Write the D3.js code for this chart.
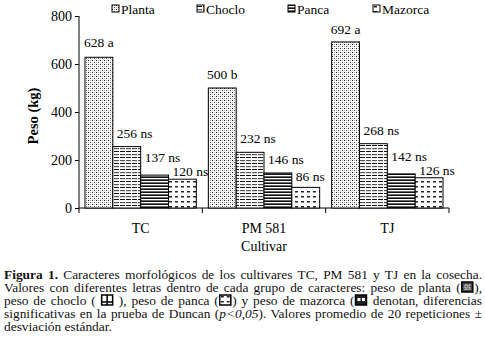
<!DOCTYPE html>
<html>
<head>
<meta charset="utf-8">
<script src="https://cdn.jsdelivr.net/npm/d3@7"></script>
<style>
  body { margin: 0; background: #fff; }
  svg text { font-family: "Liberation Serif", "Times New Roman", Times, serif; }
</style>
</head>
<body>
<div id="chart"></div>
<script>
// data
const cultivars = ["TC", "PM 581", "TJ"];
const series = ["Planta", "Choclo", "Panca", "Mazorca"];
const planta = [628, 500, 692];
const choclo = [256, 232, 268];
const panca = [137, 146, 142];
const mazorca = [120, 86, 126];
const plantaLetters = ["a", "b", "a"];
const otherLetters = ["ns", "ns", "ns"];
const yTicks = [0, 200, 400, 600, 800];

// how far each value label sits above its bar (px), per series then cultivar
const labelLift = [[10, 9.5, 8], [9, 9.5, 9], [13, 8.5, 13], [3, 6, 3]];

const FONT = "'Liberation Serif', 'Times New Roman', Times, serif";
const width = 485, height = 349;
const svg = d3.select("#chart").append("svg")
  .attr("width", width).attr("height", height)
  .attr("font-family", FONT);

// patterns for the bars
const defs = svg.append("defs");
function pattern(id, w, h, draw) {
  const p = defs.append("pattern").attr("id", id)
    .attr("patternUnits", "userSpaceOnUse").attr("width", w).attr("height", h);
  p.append("rect").attr("width", w).attr("height", h).attr("fill", "#fff");
  draw(p);
}
pattern("p-planta", 4, 4, p => {
  p.append("rect").attr("x", 0).attr("y", 0).attr("width", 1).attr("height", 1).attr("fill", "#111");
  p.append("rect").attr("x", 2).attr("y", 2).attr("width", 1).attr("height", 1).attr("fill", "#555");
  p.append("rect").attr("x", 2).attr("y", 0).attr("width", 1).attr("height", 1).attr("fill", "#aaa");
  p.append("rect").attr("x", 0).attr("y", 2).attr("width", 1).attr("height", 1).attr("fill", "#bbb");
});
pattern("p-choclo", 6, 6, p => {
  p.append("rect").attr("x", 0).attr("y", 1).attr("width", 5).attr("height", 1).attr("fill", "#111");
  p.append("rect").attr("x", 0).attr("y", 4).attr("width", 5).attr("height", 1.2).attr("fill", "#555");
});
pattern("p-panca", 4, 3, p => {
  p.append("rect").attr("x", 0).attr("y", 0).attr("width", 4).attr("height", 1).attr("fill", "#111");
  p.append("rect").attr("x", 0).attr("y", 2).attr("width", 4).attr("height", 1).attr("fill", "#666");
});
pattern("p-mazorca", 6, 5, p => {
  p.append("rect").attr("x", 1).attr("y", 1).attr("width", 3).attr("height", 1.5).attr("fill", "#222");
});
const fills = ["url(#p-planta)", "url(#p-choclo)", "url(#p-panca)", "url(#p-mazorca)"];

// scales
const x0 = d3.scaleBand().domain(cultivars).range([79, 449]).paddingInner(0).paddingOuter(0);
const x1 = d3.scaleBand().domain(series).range([6, x0.bandwidth() - 6]);
const y = d3.scaleLinear().domain([0, 800]).range([208, 16]);

const values = [planta, choclo, panca, mazorca];
const letters = [plantaLetters, otherLetters, otherLetters, otherLetters];
const rows = [];
cultivars.forEach((c, i) => series.forEach((s, j) => {
  rows.push({ c, s, i, j, v: values[j][i], lab: values[j][i] + " " + letters[j][i] });
}));

// axes
const yAxis = svg.append("g").attr("transform", "translate(79,0)")
  .call(d3.axisLeft(y).tickValues(yTicks).tickSize(4).tickPadding(3));
yAxis.attr("font-family", FONT).attr("font-size", 14);
yAxis.select(".domain").attr("d", `M0,${y(800)}V${y(0)}`);
yAxis.selectAll("text").attr("fill", "#000");

const xg = svg.append("g");
xg.append("line").attr("x1", 79).attr("x2", 449).attr("y1", y(0)).attr("y2", y(0))
  .attr("stroke", "#000");
const bounds = cultivars.map(c => x0(c)).concat([x0.range()[1]]);
xg.selectAll("line.tk").data(bounds).join("line").attr("class", "tk")
  .attr("x1", d => d).attr("x2", d => d)
  .attr("y1", y(0)).attr("y2", y(0) + 5).attr("stroke", "#000");
xg.selectAll("text").data(cultivars).join("text")
  .attr("x", d => x0(d) + x0.bandwidth() / 2).attr("y", 233)
  .attr("text-anchor", "middle").attr("font-size", 14).text(d => d);

svg.append("text").attr("x", 264).attr("y", 251).attr("text-anchor", "middle")
  .attr("font-size", 14).text("Cultivar");
svg.append("text").attr("transform", "translate(38,116) rotate(-90)")
  .attr("text-anchor", "middle").attr("font-size", 14.5).attr("font-weight", "bold")
  .text("Peso (kg)");

// bars
svg.append("g").selectAll("rect").data(rows).join("rect")
  .attr("x", d => x0(d.c) + x1(d.s)).attr("y", d => y(d.v))
  .attr("width", x1.bandwidth()).attr("height", d => y(0) - y(d.v))
  .attr("fill", d => fills[d.j]).attr("stroke", "#000").attr("stroke-width", 1);

svg.append("g").selectAll("text").data(rows).join("text")
  .attr("x", d => x0(d.c) + x1(d.s) + (d.j === 0 ? x1.bandwidth() / 2 : 4))
  .attr("y", d => y(d.v) - labelLift[d.j][d.i])
  .attr("text-anchor", d => d.j === 0 ? "middle" : "start")
  .attr("font-size", 13.5).text(d => d.lab);

// legend
const legendX = [112, 197, 288, 373];
const lg = svg.append("g").selectAll("g").data(series).join("g")
  .attr("transform", (d, i) => `translate(${legendX[i]},5)`);
lg.append("rect").attr("width", 7).attr("height", 7).attr("y", 0)
  .attr("fill", (d, i) => fills[i]).attr("stroke", "#000");
lg.append("text").attr("x", 9).attr("y", 8.5).attr("font-size", 13.5).text(d => d);

// caption
const caption = [
  [{ t: "Figura 1.", b: true }, { t: " Caracteres morfológicos de los cultivares TC, PM 581 y TJ en la cosecha." }],
  [{ t: "Valores con diferentes letras dentro de cada grupo de caracteres: peso de planta (" }, { icon: 0 }, { t: ")," }],
  [{ t: "peso de choclo ( " }, { icon: 1 }, { t: " ), peso de panca (" }, { icon: 2 }, { t: ") y peso de mazorca (" }, { icon: 3 }, { t: " denotan, diferencias" }],
  [{ t: "significativas en la prueba de Duncan (" }, { t: "p<0,05", i: true }, { t: "). Valores promedio de 20 repeticiones ±" }],
  [{ t: "desviación estándar." }]
];
const iconFill = ["#444", "#fff", "#fff", "#222"];
const cap = svg.append("g");
caption.forEach((line, li) => {
  const tx = cap.append("text").attr("x", 4).attr("y", 279 + li * 13)
    .attr("font-size", 13.4).attr("fill", "#111");
  let idx = 0;
  const icons = [];
  line.forEach(seg => {
    if (seg.icon !== undefined) {
      tx.append("tspan").text("\u2003");
      icons.push({ k: seg.icon, idx });
      idx += 1;
    } else {
      tx.append("tspan").text(seg.t)
        .attr("font-weight", seg.b ? "bold" : null)
        .attr("font-style", seg.i ? "italic" : null);
      idx += seg.t.length;
    }
  });
  if (li < caption.length - 1) {
    const full = line.map(s => s.t || "").join("");
    const spaces = (full.match(/ /g) || []).length;
    const natural = tx.node().getComputedTextLength();
    tx.attr("word-spacing", (478 - natural) / spaces);
  }
  icons.forEach(ic => {
    const p = tx.node().getStartPositionOfChar(ic.idx);
    const g = cap.append("g").attr("transform", `translate(${p.x + 1},${p.y - 10})`);
    g.append("rect").attr("width", 11).attr("height", 10).attr("fill", iconFill[ic.k])
      .attr("stroke", "#000").attr("stroke-width", 1.5);
    if (ic.k === 0) {
      g.append("rect").attr("x", 2).attr("y", 2).attr("width", 7).attr("height", 6).attr("fill", "url(#p-planta)").attr("opacity", 0.5);
    } else if (ic.k === 1) {
      g.append("line").attr("x1", 5.5).attr("x2", 5.5).attr("y1", 0).attr("y2", 10).attr("stroke", "#000").attr("stroke-width", 1.5);
      g.append("line").attr("x1", 0).attr("x2", 11).attr("y1", 7).attr("y2", 7).attr("stroke", "#000").attr("stroke-width", 1.5);
    } else if (ic.k === 2) {
      g.append("rect").attr("x", 1).attr("y", 1).attr("width", 9).attr("height", 8).attr("fill", "url(#p-mazorca)");
    } else {
      g.append("rect").attr("x", 2).attr("y", 3).attr("width", 3).attr("height", 3).attr("fill", "#fff");
      g.append("rect").attr("x", 6.5).attr("y", 3).attr("width", 3).attr("height", 3).attr("fill", "#fff");
    }
  });
});
</script>
</body>
</html>
